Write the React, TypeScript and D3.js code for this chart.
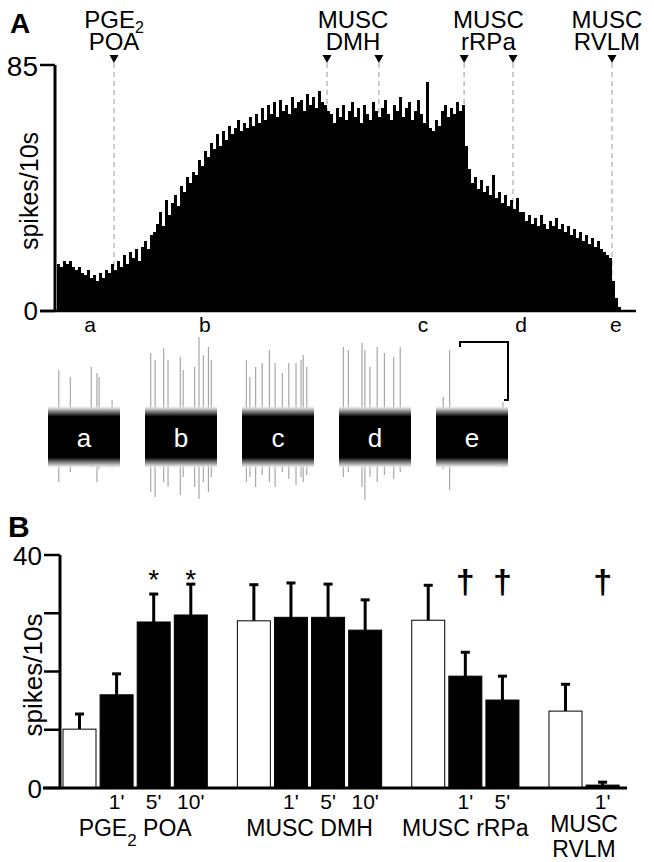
import React from 'react';
import * as d3 from 'd3';

// ---------- Panel A data ----------
const histCounts: number[] = [
  16,15,17,16,17,15,
  14,15,13,12,14,11,12,10,13,
  11,14,13,16,14,
  17,15,19,16,20,18,21,17,
  22,24,21,26,27,
  30,34,29,38,33,
  37,40,36,43,41,46,44,48,
  47,52,50,55,53,58,56,61,57,
  62,59,64,61,63,66,62,65,63,67,64,68,65,
  70,66,71,68,72,67,73,69,71,68,74,70,72,
  73,69,75,71,74,70,76,72,71,69,
  68,65,70,67,71,66,69,72,67,70,65,71,68,66,72,69,67,70,73,68,66,71,69,74,67,70,72,66,69,73,68,65,79,63,62,66,64,69,71,67,70,68,72,69,71,
  57,49,
  44,46,42,45,41,43,40,47,
  39,41,37,40,36,38,35,39,34,
  34,31,33,30,32,29,33,30,28,31,29,32,28,30,
  27,29,26,28,25,27,24,26,23,25,22,24,21,
  20,19,18,
  10,4,1,
];
const histTicks = [0, 85];
const stimTimes = [19, 90, 107.3, 135.7, 152, 185];
const stimLine1 = ['PGE', 'MUSC', 'MUSC', 'MUSC'];
const stimLine2 = ['POA', 'DMH', 'rRPa', 'RVLM'];
const stimSub = ['2', '', '', ''];
const stimLabelTimes = [19, 98.7, 143.8, 183.3];
const sampleLetters = ['a', 'b', 'c', 'd', 'e'];
const sampleTimes = [11, 49.3, 122, 154.7, 186.3];

// raw trace spikes: time within 1 window (0-1), up / down amplitude
const spikeT: number[][] = [
  [0.15, 0.31, 0.60, 0.68, 0.71, 0.89],
  [0.08, 0.14, 0.26, 0.32, 0.49, 0.53, 0.69, 0.75, 0.81, 0.88, 0.92],
  [0.06, 0.11, 0.19, 0.28, 0.38, 0.46, 0.56, 0.65, 0.75, 0.82, 0.85, 0.90],
  [0.06, 0.13, 0.32, 0.36, 0.43, 0.53, 0.63, 0.76, 0.85],
  [0.10, 0.19, 0.93],
];
const spikeUp: number[][] = [
  [67, 60, 70, 64, 60, 37],
  [84, 77, 89, 77, 80, 67, 70, 100, 82, 90, 77],
  [77, 60, 70, 74, 87, 74, 64, 74, 74, 77, 82, 70],
  [90, 87, 94, 87, 70, 90, 84, 80, 90],
  [40, 87, 35],
];
const spikeDown: number[][] = [
  [45, 35, 30, 45, 32, 30],
  [55, 60, 45, 50, 58, 40, 50, 62, 45, 55, 40],
  [45, 40, 50, 38, 45, 50, 35, 42, 48, 40, 45, 38],
  [40, 35, 50, 63, 40, 45, 38, 42, 35],
  [32, 53, 30],
];

// ---------- Panel B data ----------
const groupLabels1 = ['PGE', 'MUSC', 'MUSC', 'MUSC'];
const groupLabels2 = [' POA', ' DMH', ' rRPa', ''];
const groupLabelsLow = ['', '', '', 'RVLM'];
const barGroup = [0, 0, 0, 0, 1, 1, 1, 1, 2, 2, 2, 3, 3];
const barTimeLabels = ['', "1'", "5'", "10'", '', "1'", "5'", "10'", '', "1'", "5'", '', "1'"];
const barMeans = [10.1, 16.0, 28.5, 29.7, 28.7, 29.3, 29.3, 27.1, 28.8, 19.2, 15.1, 13.2, 0.5];
const barSem = [2.6, 3.6, 4.8, 5.3, 6.2, 5.9, 5.7, 5.2, 6.0, 4.1, 4.1, 4.6, 0.5];
const barControl = [true, false, false, false, true, false, false, false, true, false, false, true, false];
const barMarks = ['', '', '*', '*', '', '', '', '', '', '†', '†', '', '†'];
const barTicks = [0, 10, 20, 30, 40];
const barTickLabels = [0, 40];

const FONT = 'Liberation Sans, Arial, Helvetica, sans-serif';

export default function App() {
  // Panel A scales
  const xH = d3.scaleLinear().domain([0, histCounts.length]).range([57, 621]);
  const yH = d3.scaleLinear().domain([0, 85]).range([310, 65]);

  // traces
  const traceX = d3.scaleLinear().domain([0, 4]).range([48, 436]);
  const traceW = 72;
  const traceC = 437;
  const amp = d3.scaleLinear().domain([0, 100]).range([0, 100]);

  // Panel B scales
  const pos = barMeans.map((_, i) => i + barGroup[i] * 0.7);
  const xB = d3.scaleLinear().domain([0, 14.1]).range([79.5, 602.6]);
  const yB = d3.scaleLinear().domain([0, 40]).range([788, 555]);
  const bw = 33;

  const groupCenters = [0, 1, 2, 3].map((g) => {
    const ps = pos.filter((_, i) => barGroup[i] === g);
    return (xB(d3.min(ps)!) + xB(d3.max(ps)!)) / 2;
  });

  return (
    <svg width={654} height={862} style={{ position: 'absolute', left: 0, top: 0, background: '#fff' }} fontFamily={FONT}>
      <defs>
        <linearGradient id="band" x1="0" y1="0" x2="0" y2="1">
          <stop offset="0" stopColor="#fff" stopOpacity={0} />
          <stop offset="0.06" stopColor="#c8c8c8" />
          <stop offset="0.13" stopColor="#555" />
          <stop offset="0.18" stopColor="#000" />
          <stop offset="0.82" stopColor="#000" />
          <stop offset="0.87" stopColor="#555" />
          <stop offset="0.94" stopColor="#c8c8c8" />
          <stop offset="1" stopColor="#fff" stopOpacity={0} />
        </linearGradient>
      </defs>

      {/* Panel A */}
      <text x={10} y={33} fontSize={28} fontWeight="bold">A</text>

      {stimTimes.map((t, i) => (
        <g key={'st' + i}>
          <line x1={xH(t)} x2={xH(t)} y1={63} y2={310} stroke="#999" strokeWidth={1} strokeDasharray="5,4" />
          <path d={`M${xH(t) - 4.5},55 L${xH(t) + 4.5},55 L${xH(t)},63 Z`} fill="#000" />
        </g>
      ))}
      {stimLabelTimes.map((t, i) => (
        <g key={'sl' + i} fontSize={24}>
          <text x={xH(t)} y={28} textAnchor="middle">
            {stimLine1[i]}
            {stimSub[i] && <tspan fontSize={16} dy={5}>{stimSub[i]}</tspan>}
          </text>
          <text x={xH(t)} y={50} textAnchor="middle">{stimLine2[i]}</text>
        </g>
      ))}

      {histCounts.map((v, i) => (
        <rect key={'h' + i} x={xH(i)} y={yH(v)} width={xH(i + 1) - xH(i) + 0.3} height={yH(0) - yH(v)} fill="#000" shapeRendering="crispEdges" />
      ))}

      {/* axes A */}
      <line x1={55} x2={55} y1={yH(85)} y2={yH(0) + 1} stroke="#000" strokeWidth={3} />
      <line x1={40} x2={636} y1={yH(0) + 1} y2={yH(0) + 1} stroke="#000" strokeWidth={2.5} />
      {histTicks.map((v) => (
        <g key={'ht' + v}>
          <line x1={40} x2={55} y1={yH(v) + (v === 0 ? 1 : 0)} y2={yH(v) + (v === 0 ? 1 : 0)} stroke="#000" strokeWidth={2.5} />
          <text x={38} y={yH(v) + 1} fontSize={v === 0 ? 26 : 28} textAnchor="end" dominantBaseline="central">{v}</text>
        </g>
      ))}
      <text transform={`translate(38,191) rotate(-90)`} fontSize={25} textAnchor="middle">spikes/10s</text>

      {sampleLetters.map((l, i) => (
        <text key={'sm' + l} x={xH(sampleTimes[i])} y={332} fontSize={21} textAnchor="middle">{l}</text>
      ))}

      {/* traces */}
      {sampleLetters.map((l, i) => {
        const x0 = traceX(i);
        return (
          <g key={'tr' + l}>
            {spikeT[i].map((t, j) => (
              <line key={j} x1={x0 + t * traceW} x2={x0 + t * traceW} y1={traceC - amp(spikeUp[i][j])} y2={traceC + amp(spikeDown[i][j])} stroke="#8a8a8a" strokeWidth={0.9} />
            ))}
            <rect x={x0} y={traceC - 32} width={traceW} height={64} fill="url(#band)" />
            <text x={x0 + traceW / 2} y={traceC + 1} fontSize={26} fill="#fff" textAnchor="middle" dominantBaseline="central">{l}</text>
          </g>
        );
      })}
      {/* scale bar */}
      <path d="M460,347 L460,342 L508,342 L508,400 L504,400" fill="none" stroke="#000" strokeWidth={2} />

      {/* Panel B */}
      <text x={8} y={537} fontSize={30} fontWeight="bold">B</text>

      {barMeans.map((m, i) => {
        const cx = xB(pos[i]);
        const top = yB(m + barSem[i]);
        return (
          <g key={'b' + i}>
            <line x1={cx} x2={cx} y1={yB(m)} y2={top} stroke="#000" strokeWidth={3} />
            <line x1={cx - 4.5} x2={cx + 4.5} y1={top} y2={top} stroke="#000" strokeWidth={3} />
            <rect x={cx - bw / 2} y={yB(m)} width={bw} height={yB(0) - yB(m)}
              fill={barControl[i] ? '#fff' : '#000'} stroke="#000" strokeWidth={1} />
            {barMarks[i] === '*' && (
              <text x={cx} y={589} fontSize={28} textAnchor="middle">*</text>
            )}
            {barMarks[i] === '†' && (
              <text x={cx} y={593} fontSize={34} fontWeight="bold" textAnchor="middle">†</text>
            )}
            {barTimeLabels[i] && (
              <text x={cx} y={809} fontSize={21} textAnchor="middle">{barTimeLabels[i]}</text>
            )}
          </g>
        );
      })}

      <line x1={60} x2={60} y1={yB(40)} y2={yB(0) + 1} stroke="#000" strokeWidth={3} />
      <line x1={43} x2={627} y1={yB(0)} y2={yB(0)} stroke="#000" strokeWidth={3} />
      {barTicks.map((v) => (
        <line key={'bt' + v} x1={44} x2={60} y1={yB(v)} y2={yB(v)} stroke="#000" strokeWidth={2.5} />
      ))}
      {barTickLabels.map((v) => (
        <text key={'btl' + v} x={42} y={yB(v) + 1} fontSize={26} textAnchor="end" dominantBaseline="central">{v}</text>
      ))}
      <text transform={`translate(42,675) rotate(-90)`} fontSize={26} textAnchor="middle">spikes/10s</text>

      {groupCenters.map((c, g) => (
        <g key={'gl' + g} fontSize={23}>
          {g < 3 ? (
            <text x={c} y={836} textAnchor="middle">
              {groupLabels1[g]}
              {g === 0 && <tspan fontSize={17} dy={10}>2</tspan>}
              {g === 0 ? <tspan dy={-10}>{groupLabels2[g]}</tspan> : groupLabels2[g]}
            </text>
          ) : (
            <>
              <text x={c} y={832} textAnchor="middle">{groupLabels1[g]}</text>
              <text x={c} y={857} textAnchor="middle">{groupLabelsLow[g]}</text>
            </>
          )}
        </g>
      ))}
    </svg>
  );
}
